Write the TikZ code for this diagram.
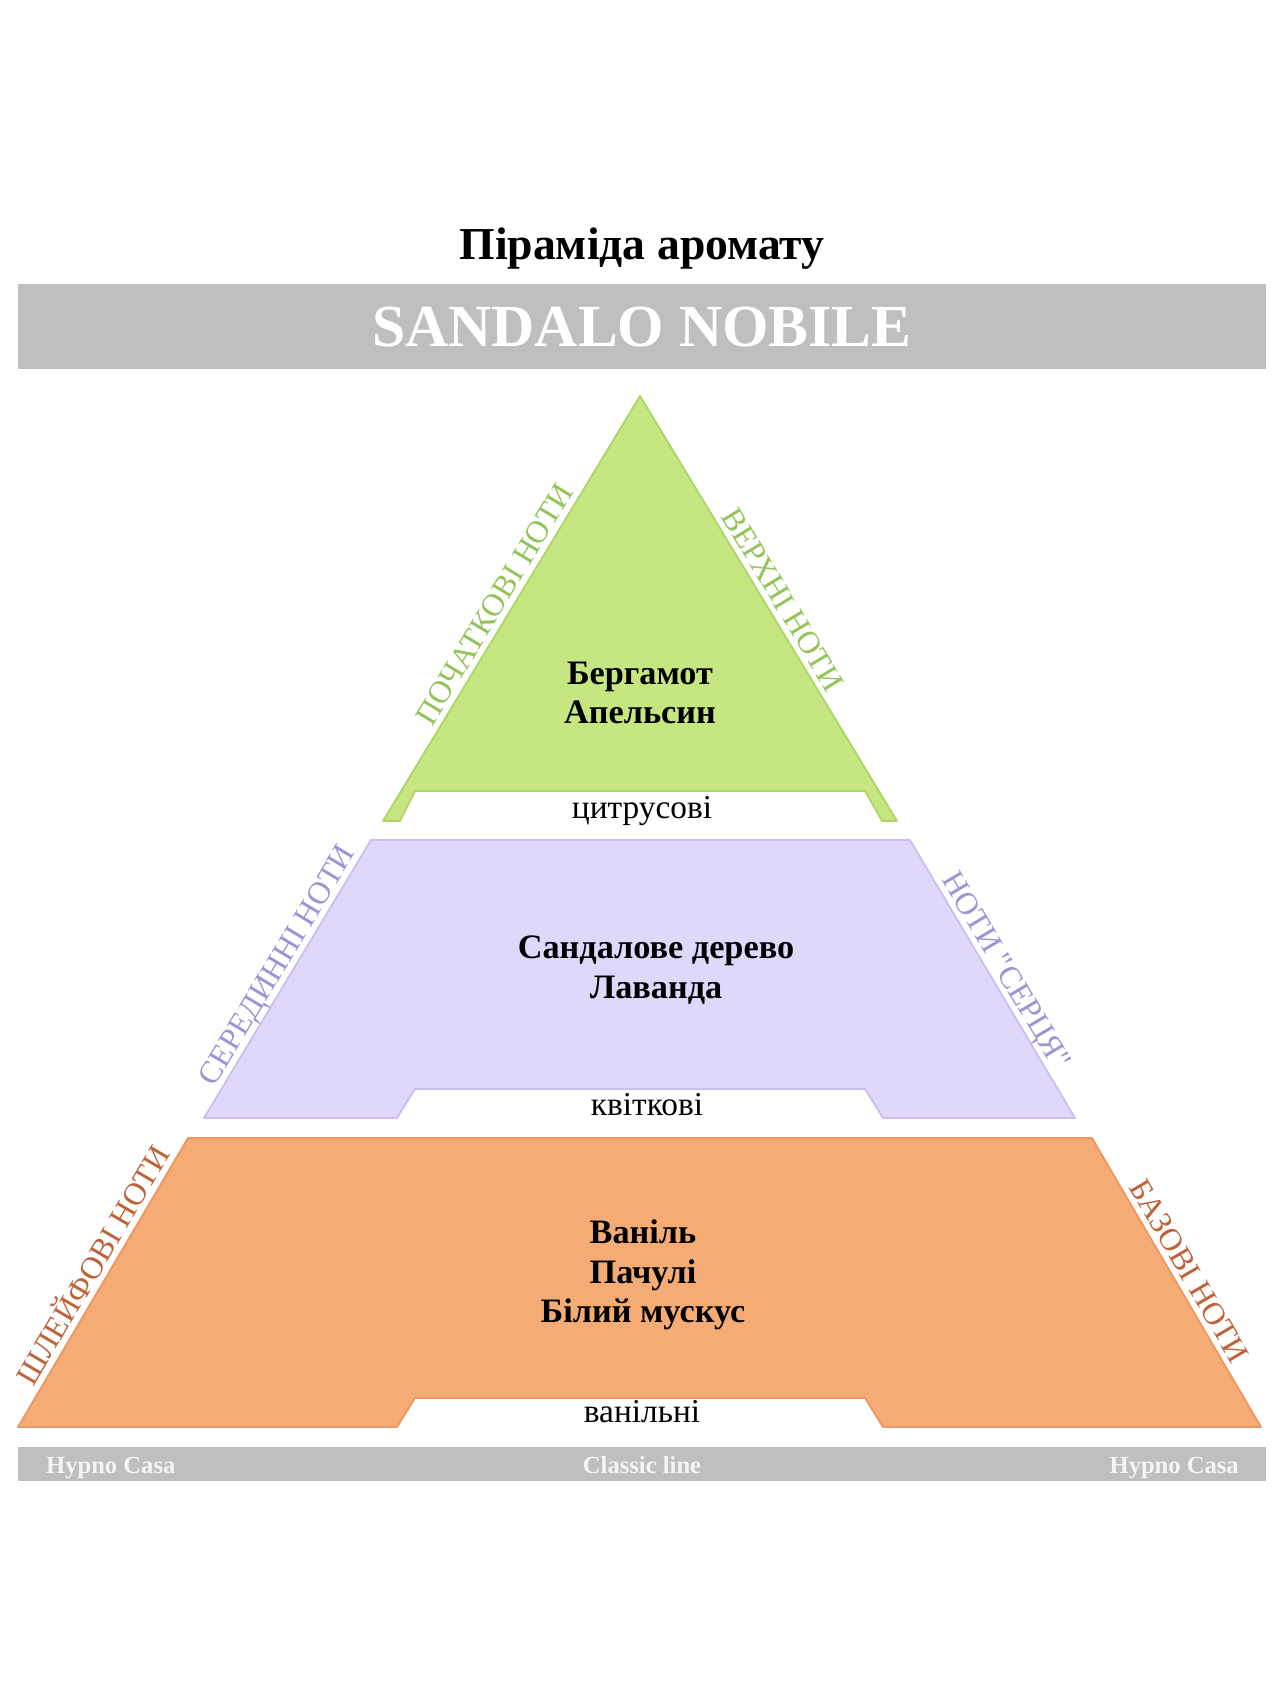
\documentclass[tikz,border=0pt]{standalone}
\usepackage{fontspec}
\setmainfont{Liberation Serif}[Ligatures=TeXOff]
\usepackage{xcolor}
\definecolor{bannergray}{RGB}{191, 191, 191}
\definecolor{topfill}{RGB}{197, 230, 128}
\definecolor{topedge}{RGB}{172, 214, 104}
\definecolor{toptext}{RGB}{146, 196, 88}
\definecolor{heartfill}{RGB}{224, 216, 250}
\definecolor{heartedge}{RGB}{204, 190, 240}
\definecolor{hearttext}{RGB}{158, 148, 212}
\definecolor{basefill}{RGB}{245, 172, 116}
\definecolor{baseedge}{RGB}{236, 150, 96}
\definecolor{basetext}{RGB}{190, 98, 58}
\usepackage{tikz}

\begin{document}
\begin{tikzpicture}[
  x=0.02cm, y=-0.02cm,
  tier/.style={line width=1pt, line join=round},
  notes/.style={font=\fontsize{19.5}{22.5}\selectfont\bfseries, align=center},
  family/.style={font=\fontsize{19}{22}\selectfont, anchor=base},
  sidelabel/.style={font=\fontsize{18}{20}\selectfont, sloped, above, inner sep=3.5pt, text depth=0pt},
  footer/.style={font=\fontsize{14}{16}\selectfont\bfseries, text=white!96!black}
]
\useasboundingbox (0,0) rectangle (1284,1686);
\fill[white] (0,0) rectangle (1284,1686);

\node[anchor=base, font=\fontsize{26}{30}\selectfont\bfseries] (title) at (642,259) {Піраміда аромату};
\fill[bannergray] (18,284) rectangle (1266,369);
\node[anchor=base, text=white, font=\fontsize{34}{36}\selectfont\bfseries] (name) at (642,346) {SANDALO NOBILE};

\coordinate (tA) at (640,396);
\coordinate (tL) at (383,821);
\coordinate (tR) at (897,821);
\draw[tier, draw=topedge, fill=topfill] (tA) -- (tR) -- (882,821) -- (865,791) -- (415,791) -- (400,821) -- (tL) -- cycle;
\path (tL) -- node[sidelabel, pos=0.49, text=toptext] (topleft) {ПОЧАТКОВІ НОТИ} (tA);
\path (tA) -- node[sidelabel, pos=0.5, text=toptext] (topright) {ВЕРХНІ НОТИ} (tR);
\node[notes] (topnotes) at (640,693) {Бергамот\\Апельсин};
\node[family] (topfamily) at (642,818) {цитрусові};

\coordinate (hTL) at (371,840);
\coordinate (hTR) at (910,840);
\coordinate (hBL) at (204,1118);
\coordinate (hBR) at (1075,1118);
\draw[tier, draw=heartedge, fill=heartfill] (hTL) -- (hTR) -- (hBR) -- (883,1118) -- (865,1089) -- (415,1089) -- (397,1118) -- (hBL) -- cycle;
\path (hBL) -- node[sidelabel, pos=0.52, text=hearttext] (heartleft) {СЕРЕДИННІ НОТИ} (hTL);
\path (hTR) -- node[sidelabel, pos=0.5, text=hearttext] (heartright) {НОТИ "СЕРЦЯ"} (hBR);
\node[notes] (heartnotes) at (656,970) {Сандалове дерево\\Лаванда};
\node[family] (heartfamily) at (647,1115) {квіткові};

\coordinate (bTL) at (188,1138);
\coordinate (bTR) at (1092,1138);
\coordinate (bBL) at (18,1427);
\coordinate (bBR) at (1261,1427);
\draw[tier, draw=baseedge, fill=basefill] (bTL) -- (bTR) -- (bBR) -- (883,1427) -- (865,1398) -- (415,1398) -- (397,1427) -- (bBL) -- cycle;
\path (bBL) -- node[sidelabel, pos=0.53, text=basetext] (baseleft) {ШЛЕЙФОВІ НОТИ} (bTL);
\path (bTR) -- node[sidelabel, pos=0.49, text=basetext] (baseright) {БАЗОВІ НОТИ} (bBR);
\node[notes] (basenotes) at (643,1275) {Ваніль\\Пачулі\\Білий мускус};
\node[family] (basefamily) at (642,1422) {ванільні};

\fill[bannergray] (18,1447) rectangle (1266,1481);
\node[footer, anchor=base west] (brandleft) at (40,1473) {Hypno Casa};
\node[footer, anchor=base] (line) at (642,1473) {Classic line};
\node[footer, anchor=base east] (brandright) at (1245,1473) {Hypno Casa};
\end{tikzpicture}
\end{document}
